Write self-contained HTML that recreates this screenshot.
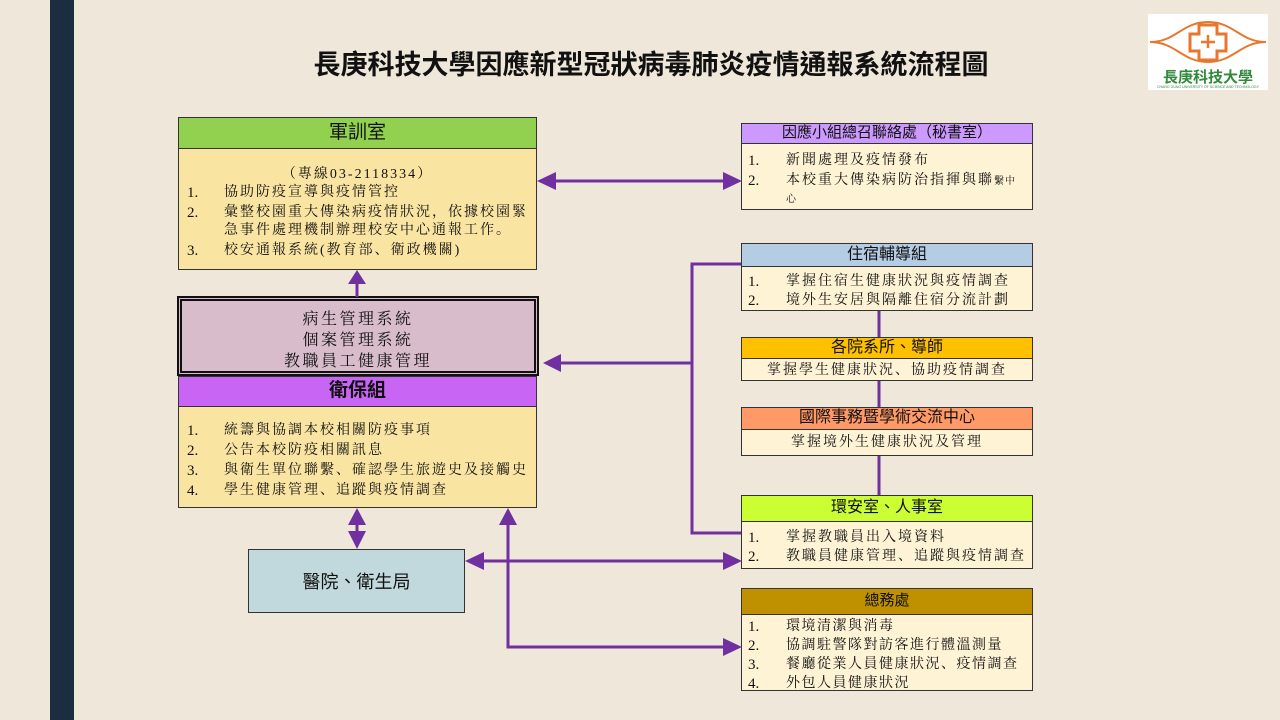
<!DOCTYPE html>
<html><head><meta charset="utf-8">
<style>
*{margin:0;padding:0;box-sizing:border-box}
body{width:1280px;height:720px;background:#efe8da;position:relative;overflow:hidden;font-family:"Liberation Serif","Noto Serif CJK SC",serif;color:#111}
.a{position:absolute;white-space:nowrap}
.sidebar{left:50px;top:0;width:24px;height:720px;background:#1b2e40}
.title{left:280px;width:742px;top:48px;text-align:center;font:700 27px/34px "Liberation Sans","Noto Sans CJK TC",sans-serif;color:#111}
.box{position:absolute;border:1.5px solid #333}
.hd{position:absolute;left:0;right:0;top:0;border-bottom:1.5px solid #333;text-align:center;font-family:"Liberation Sans","Noto Sans CJK TC",sans-serif;color:#111}
.t{position:absolute;white-space:nowrap;font-size:14px;line-height:20px;letter-spacing:2px;margin-top:3px}
.n{position:absolute;white-space:nowrap;font-size:15px;line-height:20px;font-family:"Liberation Serif",serif;margin-top:3px}
.c{position:absolute;white-space:nowrap;font-size:14px;line-height:20px;letter-spacing:2px;text-align:center;margin-top:3px}
</style></head><body>
<div class="a sidebar"></div>
<div class="a title">長庚科技大學因應新型冠狀病毒肺炎疫情通報系統流程圖</div>

<!-- logo -->
<svg class="a" style="left:1148px;top:14px" width="120" height="76" viewBox="1148 14 120 76">
<rect x="1148" y="14" width="120" height="76" fill="#fff"/>
<path d="M1150 42 C1176 42 1182 22 1208 22 C1234 22 1240 42 1266 42 C1240 42 1234 62 1208 62 C1182 62 1176 42 1150 42Z" fill="none" stroke="#e8762c" stroke-width="2"/>
<path d="M1199 25 h18 v9 h9 v17 h-9 v9 h-18 v-9 h-9 v-17 h9z" fill="#fff" stroke="#e8762c" stroke-width="3"/>
<path d="M1208 35 v13 M1201 42 h14" stroke="#e8762c" stroke-width="2.5"/>
<text x="1208" y="82" text-anchor="middle" font-family="Liberation Sans, Noto Sans CJK TC, sans-serif" font-size="15" font-weight="700" fill="#2f8a3a">長庚科技大學</text>
<text x="1208" y="88" text-anchor="middle" font-family="Liberation Sans, sans-serif" font-size="3.5" fill="#2f8a3a">CHANG GUNG UNIVERSITY OF SCIENCE AND TECHNOLOGY</text>
</svg>

<!-- connector: vertical x=879 behind boxes -->
<svg class="a" style="left:0;top:0" width="1280" height="720">
<line x1="879" y1="305" x2="879" y2="500" stroke="#7030a0" stroke-width="3"/>
</svg>

<!-- 軍訓室 -->
<div class="box" style="left:178px;top:117px;width:359px;height:153px;background:#fae4a2">
  <div class="hd" style="height:31px;background:#92d050;font-size:19px;line-height:29px">軍訓室</div>
</div>
<div class="c" style="left:178px;width:359px;top:162px">（專線03-2118334）</div>
<div class="n" style="left:187px;top:180px">1.</div><div class="t" style="left:224px;top:180px">協助防疫宣導與疫情管控</div>
<div class="n" style="left:187px;top:200px">2.</div><div class="t" style="left:224px;top:200px">彙整校園重大傳染病疫情狀況，依據校園緊</div>
<div class="t" style="left:224px;top:218px">急事件處理機制辦理校安中心通報工作。</div>
<div class="n" style="left:187px;top:238px">3.</div><div class="t" style="left:224px;top:238px">校安通報系統(教育部、衛政機關)</div>

<!-- 病生管理 -->
<div class="a" style="left:177px;top:296px;width:362px;height:80px;border:5px double #111;background:#d8bccb"></div>
<div class="c" style="left:178px;width:360px;top:306px;font-size:16px;letter-spacing:2.5px;line-height:22px">病生管理系統</div>
<div class="c" style="left:178px;width:360px;top:327px;font-size:16px;letter-spacing:2.5px;line-height:22px">個案管理系統</div>
<div class="c" style="left:178px;width:360px;top:348px;font-size:16px;letter-spacing:2.5px;line-height:22px">教職員工健康管理</div>

<!-- 衛保組 -->
<div class="box" style="left:178px;top:376px;width:359px;height:132px;background:#fae4a2">
  <div class="hd" style="height:30px;background:#c965f5;font-size:19px;line-height:28px;font-weight:700">衛保組</div>
</div>
<div class="n" style="left:187px;top:418px">1.</div><div class="t" style="left:224px;top:418px">統籌與協調本校相關防疫事項</div>
<div class="n" style="left:187px;top:438px">2.</div><div class="t" style="left:224px;top:438px">公告本校防疫相關訊息</div>
<div class="n" style="left:187px;top:458px">3.</div><div class="t" style="left:224px;top:458px">與衛生單位聯繫、確認學生旅遊史及接觸史</div>
<div class="n" style="left:187px;top:478px">4.</div><div class="t" style="left:224px;top:478px">學生健康管理、追蹤與疫情調查</div>

<!-- 醫院 -->
<div class="box" style="left:248px;top:549px;width:217px;height:64px;background:#c1d9dd"></div>
<div class="a" style="left:248px;width:217px;top:570px;text-align:center;font:18px/24px 'Liberation Sans','Noto Sans CJK TC',sans-serif">醫院、衛生局</div>

<!-- 因應小組 -->
<div class="box" style="left:741px;top:123px;width:292px;height:87px;background:#fff3d5">
  <div class="hd" style="height:20px;background:#cc99ff;font-size:15px;line-height:18px">因應小組總召聯絡處（秘書室）</div>
</div>
<div class="n" style="left:748px;top:148px">1.</div><div class="t" style="left:786px;top:148px">新聞處理及疫情發布</div>
<div class="n" style="left:748px;top:168px">2.</div><div class="t" style="left:786px;top:168px">本校重大傳染病防治指揮與聯<span style="font-size:10px;letter-spacing:1px">繫中</span></div>
<div class="t" style="left:786px;top:187px;font-size:10px">心</div>

<!-- 住宿輔導組 -->
<div class="box" style="left:741px;top:243px;width:292px;height:68px;background:#fff3d5">
  <div class="hd" style="height:23px;background:#b4cce4;font-size:16px;line-height:21px">住宿輔導組</div>
</div>
<div class="n" style="left:748px;top:269px">1.</div><div class="t" style="left:786px;top:269px">掌握住宿生健康狀況與疫情調查</div>
<div class="n" style="left:748px;top:288px">2.</div><div class="t" style="left:786px;top:288px">境外生安居與隔離住宿分流計劃</div>

<!-- 各院系所 -->
<div class="box" style="left:741px;top:337px;width:292px;height:44px;background:#fff3d5">
  <div class="hd" style="height:21px;background:#ffc000;font-size:16px;line-height:19px">各院系所、導師</div>
</div>
<div class="c" style="left:741px;width:292px;top:358px">掌握學生健康狀況、協助疫情調查</div>

<!-- 國際事務 -->
<div class="box" style="left:741px;top:407px;width:292px;height:49px;background:#fff3d5">
  <div class="hd" style="height:22px;background:#ff9966;font-size:16px;line-height:20px">國際事務暨學術交流中心</div>
</div>
<div class="c" style="left:741px;width:292px;top:430px">掌握境外生健康狀況及管理</div>

<!-- 環安室 -->
<div class="box" style="left:741px;top:495px;width:292px;height:74px;background:#fff3d5">
  <div class="hd" style="height:26px;background:#ccff33;font-size:16px;line-height:24px">環安室、人事室</div>
</div>
<div class="n" style="left:748px;top:525px">1.</div><div class="t" style="left:786px;top:525px">掌握教職員出入境資料</div>
<div class="n" style="left:748px;top:544px">2.</div><div class="t" style="left:786px;top:544px">教職員健康管理、追蹤與疫情調查</div>

<!-- 總務處 -->
<div class="box" style="left:741px;top:588px;width:292px;height:103px;background:#fff3d5">
  <div class="hd" style="height:26px;background:#bf9000;font-size:15px;line-height:24px">總務處</div>
</div>
<div class="n" style="left:748px;top:614px">1.</div><div class="t" style="left:786px;top:614px;letter-spacing:1.5px">環境清潔與消毒</div>
<div class="n" style="left:748px;top:633px">2.</div><div class="t" style="left:786px;top:633px;letter-spacing:1.5px">協調駐警隊對訪客進行體溫測量</div>
<div class="n" style="left:748px;top:652px">3.</div><div class="t" style="left:786px;top:652px;letter-spacing:1.5px">餐廳從業人員健康狀況、疫情調查</div>
<div class="n" style="left:748px;top:671px">4.</div><div class="t" style="left:786px;top:671px;letter-spacing:1.5px">外包人員健康狀況</div>

<!-- connectors on top -->
<svg class="a" style="left:0;top:0" width="1280" height="720">
<g stroke="#7030a0" stroke-width="3" fill="none">
  <line x1="553" y1="181" x2="725" y2="181"/>
  <line x1="357" y1="297" x2="357" y2="282"/>
  <polyline points="741,264 692,264 692,533 741,533"/>
  <line x1="692" y1="363" x2="558" y2="363"/>
  <line x1="357" y1="523" x2="357" y2="533"/>
  <line x1="481" y1="561" x2="725" y2="561"/>
  <polyline points="508,522 508,647 725,647"/>
</g>
<g fill="#7030a0">
  <polygon points="537,181 556,172 556,190"/>
  <polygon points="742,181 723,172 723,190"/>
  <polygon points="357,270 348,284 366,284"/>
  <polygon points="543,363 561,354 561,372"/>
  <polygon points="357,508 348,525 366,525"/>
  <polygon points="357,549 348,531 366,531"/>
  <polygon points="465,561 484,552 484,570"/>
  <polygon points="742,561 723,552 723,570"/>
  <polygon points="508,508 499,525 517,525"/>
  <polygon points="742,647 723,638 723,656"/>
</g>
</svg>
</body></html>
